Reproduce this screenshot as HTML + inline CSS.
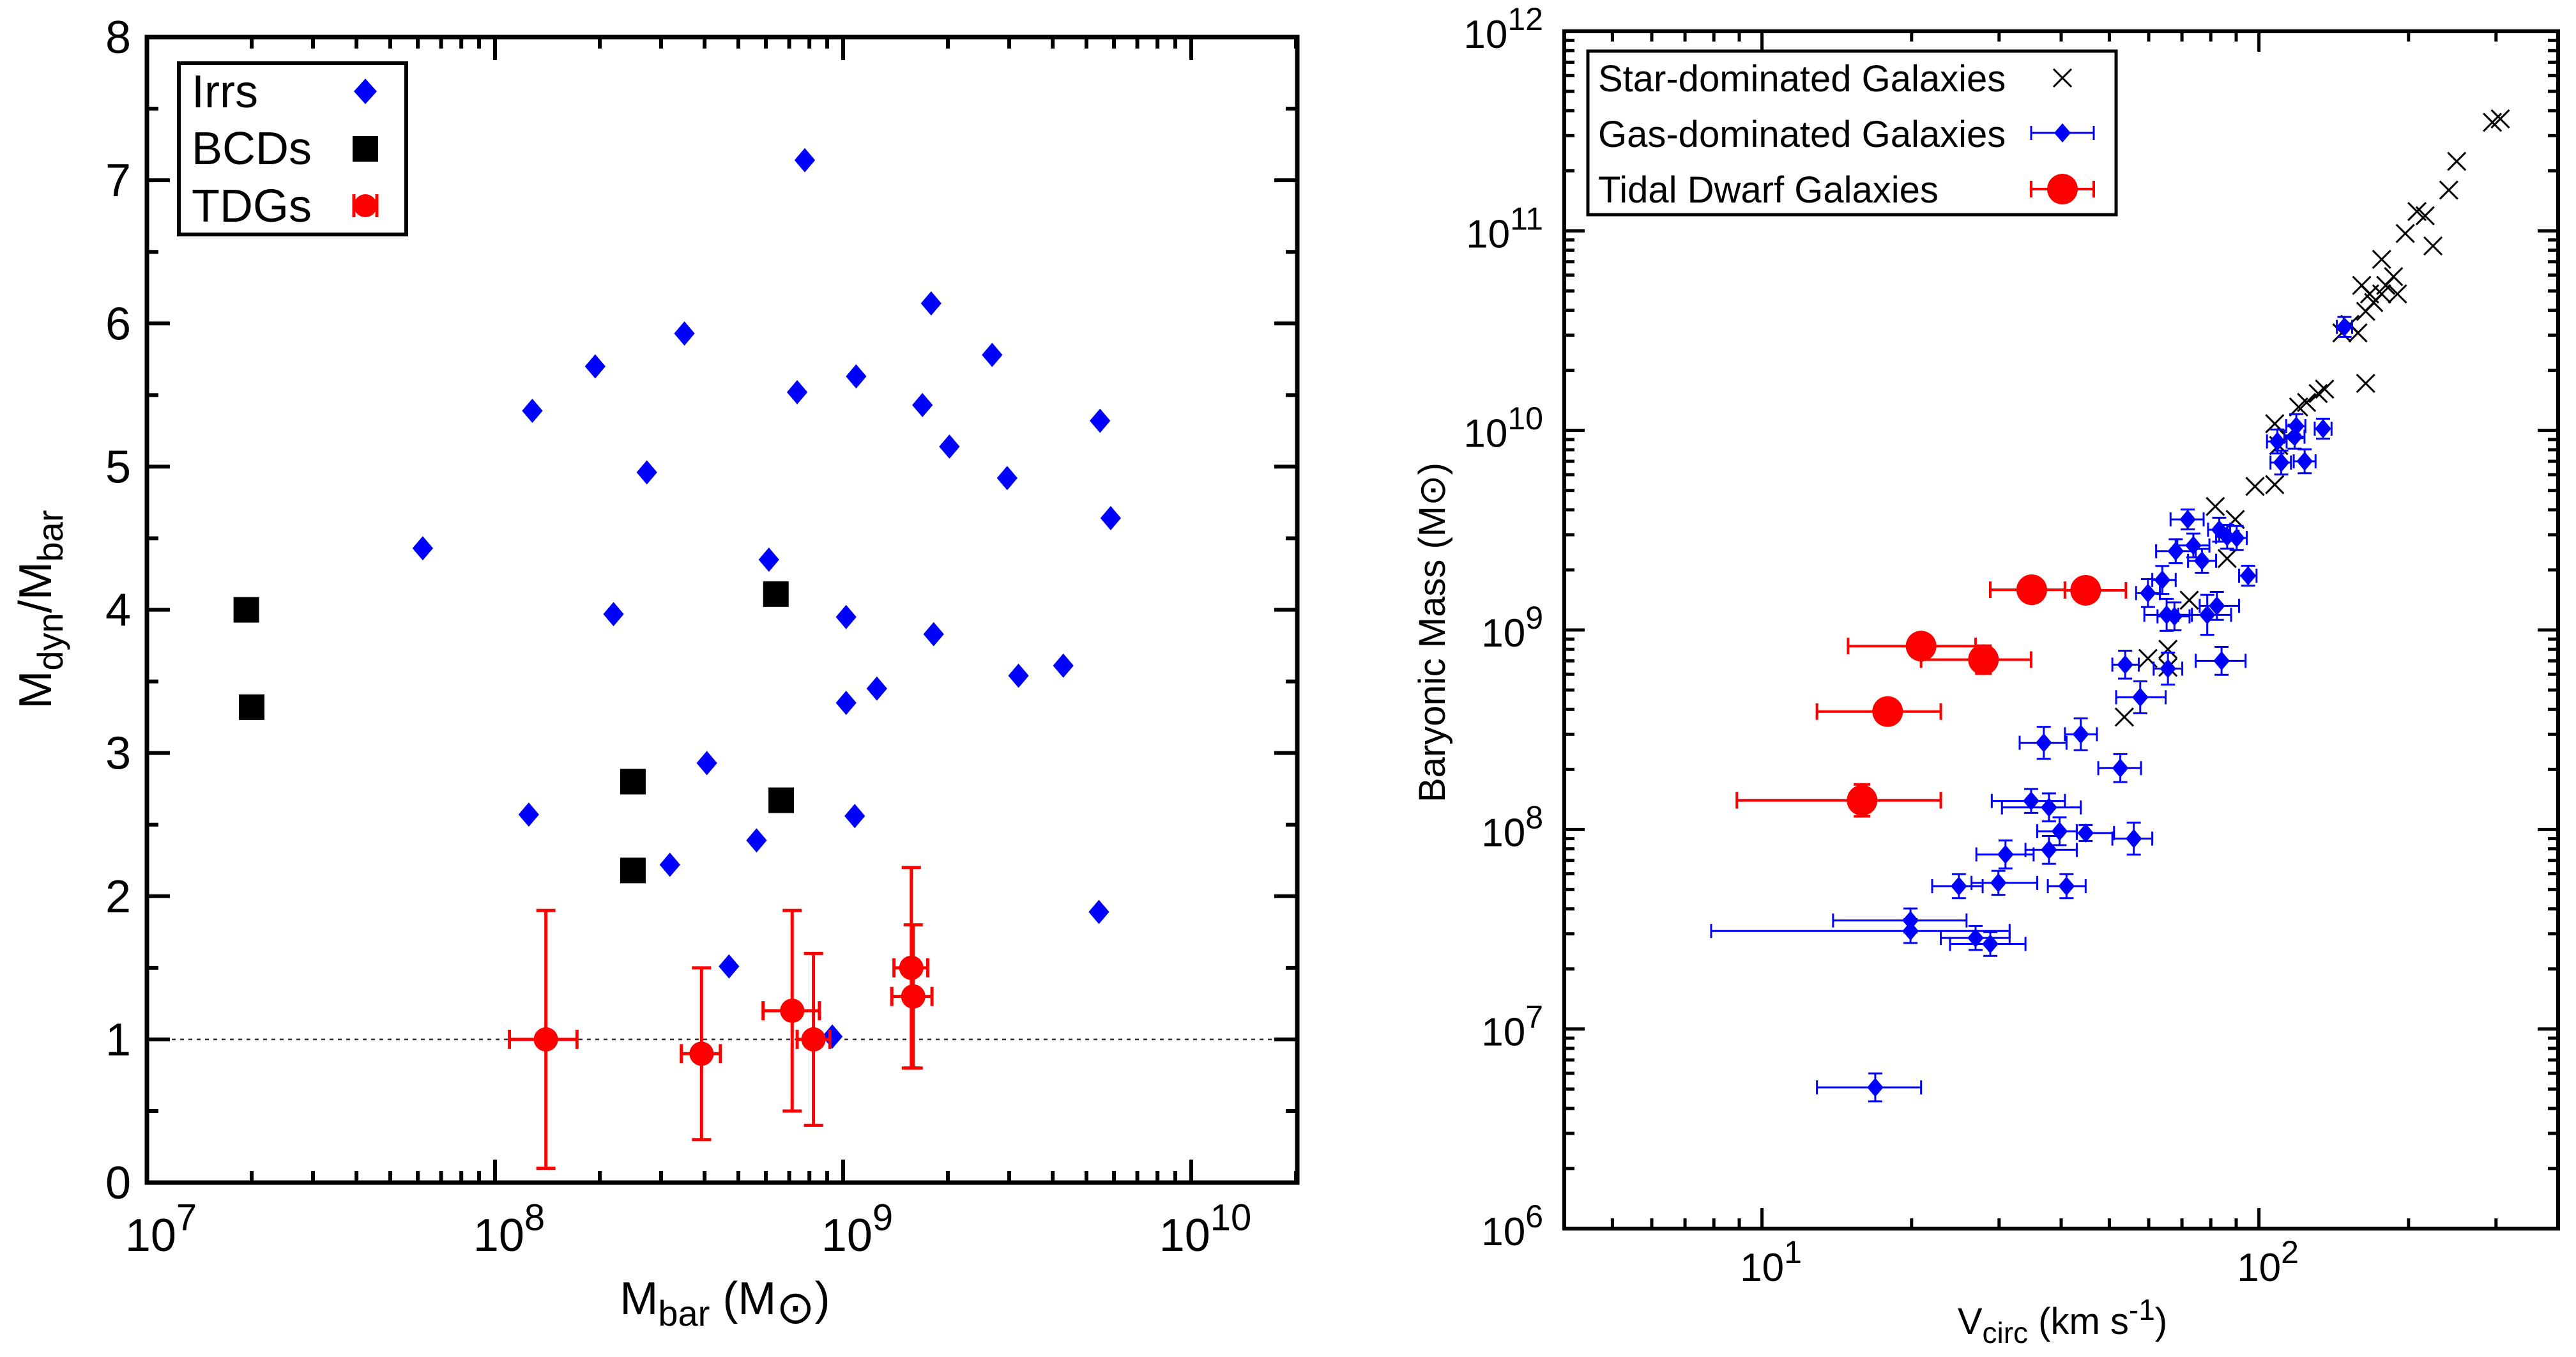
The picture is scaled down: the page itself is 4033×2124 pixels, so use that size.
<!DOCTYPE html>
<html><head><meta charset="utf-8"><style>
html,body{margin:0;padding:0;background:#fff;}
svg{display:block;font-family:"Liberation Sans","DejaVu Sans",sans-serif;}
</style></head><body>
<svg id="fig" width="4033" height="2124" viewBox="0 0 4033 2124" xmlns="http://www.w3.org/2000/svg">
<rect width="4033" height="2124" fill="#fff"/>
<g id="left"></g>
<g id="right"></g>
</svg>
<script>
// ---- Left panel data ----
const irrMbar = [6.2e7,1.28e8,1.25e8,1.94e8,2.19e8,2.73e8,3.18e8,3.50e8,4.06e8,4.70e8,5.64e8,6.12e8,7.38e8,7.76e8,9.31e8,1.02e9,1.02e9,1.08e9,1.09e9,1.25e9,1.69e9,1.79e9,1.82e9,2.02e9,2.68e9,2.96e9,3.19e9,4.29e9,5.47e9,5.43e9,5.87e9];
const irrRatio = [4.43,5.39,2.57,5.70,3.97,4.96,2.22,5.93,2.93,1.51,2.39,4.35,5.52,7.14,1.02,3.95,3.35,2.56,5.63,3.45,5.43,6.14,3.83,5.14,5.78,4.92,3.54,3.61,5.32,1.89,4.64];
const bcdMbar = [1.93e7,2.0e7,2.49e8,2.49e8,6.41e8,6.64e8];
const bcdRatio = [4.00,3.32,2.80,2.18,4.11,2.67];
const tdgMbar = [1.40e8,3.92e8,7.14e8,8.22e8,1.57e9,1.59e9];
const tdgMbarLo = [1.10e8,3.43e8,5.89e8,7.38e8,1.40e9,1.38e9];
const tdgMbarHi = [1.72e8,4.44e8,8.55e8,9.16e8,1.75e9,1.80e9];
const tdgRatio = [1.0,0.9,1.2,1.0,1.5,1.3];
const tdgRatioLo = [0.1,0.3,0.5,0.4,0.8,0.8];
const tdgRatioHi = [1.9,1.5,1.9,1.6,2.2,1.8];
const leftYTicks = [0,1,2,3,4,5,6,7,8];
const leftXDecades = [7,8,9,10];

// ---- Right panel data ----
const starV = [53.6,59.8,65.6,65.6,72.4,81.7,86.3,89.6,98.2,107.6,109.6,107.6,113.7,120.2,124.7,131.6,135.6,164,146.9,152.4,158.2,164,170.2,176.6,161,167,176.6,180,186.6,190,197,208,216,224,241,250,295,306];
const starM = [3.66e8,7.2e8,8.0e8,6.5e8,1.41e9,4.16e9,2.28e9,3.58e9,5.24e9,5.35e9,8.4e9,1.08e10,9.3e9,1.31e10,1.38e10,1.53e10,1.61e10,1.72e10,3.08e10,3.40e10,3.08e10,3.95e10,4.37e10,4.83e10,5.33e10,4.83e10,7.2e10,5.33e10,5.9e10,4.83e10,9.7e10,1.25e11,1.19e11,8.4e10,1.60e11,2.23e11,3.50e11,3.64e11];
const gasV = [16.9,19.9,19.9,24.9,26.9,28.8,29.9,30.9,34.8,37.8,37.8,39.7,41.0,44.8,36.9,43.8,52.6,56.0,53.8,57.7,59.8,63.9,65.6,65.2,67.6,68.0,71.9,73.8,76.8,78.7,82.3,84.1,83.2,86.3,90.2,95.1,108.9,110.9,118.9,118.0,123.6,134.6,148.6];
const gasVlo = [12.9,13.9,7.9,22.0,22.9,23.9,26.4,27.0,29.0,30.4,33.9,35.8,37.6,43.0,33.0,40.7,47.5,50.7,50.7,51.6,56.6,61.0,61.4,58.8,62.5,62.1,66.4,68.5,72.0,68.8,76.0,74.6,79.0,82.0,86.5,91.2,103.8,105.5,113.5,112.5,117.5,129.5,143.5];
const gasVhi = [20.9,25.8,31.5,27.8,31.5,33.9,35.8,35.2,40.7,43.8,43.0,43.0,44.8,51.1,41.0,47.2,57.9,61.0,57.3,64.9,63.2,68.0,70.1,73.3,72.5,74.6,77.4,79.5,82.0,87.9,91.2,94.0,87.5,91.0,94.5,98.9,113.7,116.0,124.0,123.5,130.0,140.0,154.0];
const gasM = [5.1e6,3.5e7,3.1e7,5.2e7,2.86e7,2.67e7,5.4e7,7.5e7,1.39e8,1.29e8,7.9e7,9.8e7,5.2e7,9.6e7,2.72e8,3.0e8,2.03e8,9.0e7,6.7e8,4.6e8,1.53e9,1.78e9,6.4e8,1.19e9,1.17e9,2.48e9,3.58e9,2.65e9,2.22e9,1.19e9,1.32e9,7.0e8,3.18e9,2.93e9,2.89e9,1.87e9,8.8e9,6.9e9,1.05e10,9.3e9,7.0e9,1.02e10,3.3e10];
const gasMerrDex = [0.07,0.06,0.06,0.06,0.06,0.06,0.06,0.07,0.06,0.07,0.07,0.07,0.06,0.04,0.08,0.08,0.07,0.08,0.07,0.08,0.07,0.07,0.08,0.08,0.07,0.06,0.05,0.06,0.06,0.10,0.07,0.07,0.06,0.06,0.06,0.05,0.06,0.06,0.06,0.06,0.06,0.05,0.05];
const tdgV = [15.9,17.9,20.9,27.9,34.9,44.8];
const tdgVlo = [8.9,12.9,14.9,20.9,28.8,40.7];
const tdgVhi = [22.9,22.9,26.9,34.8,40.7,54.0];
const tdgM = [1.40e8,3.9e8,8.3e8,7.1e8,1.59e9,1.58e9];
const tdgMerrDex = [0.08,0.04,0.04,0.07,0.04,0.04];
const rightYDecades = [6,7,8,9,10,11,12];
const rightXDecades = [1,2];

const NS = "http://www.w3.org/2000/svg";
function mk(parent, tag, attrs, name, text){
  const e = document.createElementNS(NS, tag);
  for (const k in attrs) e.setAttribute(k, attrs[k]);
  
  
  if (text !== undefined) e.textContent = text;
  parent.appendChild(e);
  return e;
}
function line(p,x1,y1,x2,y2,stroke,w,name,extra){
  const a = {x1:x1,y1:y1,x2:x2,y2:y2,stroke:stroke,'stroke-width':w};
  if (extra) for (const k in extra) a[k]=extra[k];
  return mk(p,'line',a,name);
}
function powLabel(p,x,y,base,exp,fs,sfs,anchorRight,name){
  const t = mk(p,'text',{x:x,y:y,'font-size':fs,'text-anchor':anchorRight?'end':'middle'},name);
  const b = document.createElementNS(NS,'tspan'); b.textContent=base; t.appendChild(b);
  const s = document.createElementNS(NS,'tspan'); s.setAttribute('dy',-fs*0.45); s.setAttribute('font-size',sfs); s.textContent=exp; t.appendChild(s);
  return t;
}

// ================= LEFT =================
(function(){
  const g = document.getElementById('left');
  const L=230, R=2031, T=58, B=1851;
  const lx0=7, lx1=7+(R-L)/545;
  const X = v => L + (Math.log10(v)-lx0)/(lx1-lx0)*(R-L);
  const Y = v => B - v/8*(B-T);
  // dotted line at 1
  line(g,L,Y(1),R,Y(1),'#333',2.5,'reference-line-ratio-1',{'stroke-dasharray':'6,7'});
  // ticks
  const tk = mk(g,'g',{},'ticks');
  for (let v=0; v<=8; v+=0.5){
    const len = (v%1===0)?36:18;
    line(tk,L,Y(v),L+len,Y(v),'#000',6,'y-tick');
    line(tk,R,Y(v),R-len,Y(v),'#000',6,'y-tick-right');
  }
  for (let d=7; d<=10; d++){
    for (let m=1; m<=9; m++){
      const v = m*Math.pow(10,d);
      const x = X(v);
      if (x<L+1 || x>R-1) continue;
      const len = m===1?36:18;
      line(tk,x,B,x,B-len,'#000',6,'x-tick');
      line(tk,x,T,x,T+len,'#000',6,'x-tick-top');
    }
  }
  mk(g,'rect',{x:L,y:T,width:R-L,height:B-T,fill:'none',stroke:'#000','stroke-width':7},'plot-frame');
  // tick labels
  leftYTicks.forEach(v=>{ mk(g,'text',{x:205,y:Y(v)+25,'font-size':72,'text-anchor':'end'},'y-tick-label',String(v)); });
  leftXDecades.forEach(d=>{ powLabel(g,X(Math.pow(10,d))+22,1958,'10',String(d),72,58,false,'x-tick-label'); });
  // axis labels
  const yl = mk(g,'text',{x:0,y:0,'font-size':72,'text-anchor':'middle',transform:'translate(80,954) rotate(-90)'},'y-axis-title');
  yl.innerHTML = 'M<tspan font-size="56" dy="18">dyn</tspan><tspan dy="-18">/M</tspan><tspan font-size="56" dy="18">bar</tspan>';
  const xl = mk(g,'text',{x:1135,y:2057,'font-size':72,'text-anchor':'middle'},'x-axis-title');
  xl.innerHTML = 'M<tspan font-size="56" dy="18">bar</tspan><tspan dy="-18"> (M</tspan><tspan font-family="DejaVu Sans" dy="14">⊙</tspan><tspan dy="-14">)</tspan>';
  // markers
  const ir = mk(g,'g',{fill:'#0000ff'},'irrs-series');
  irrMbar.forEach((m,i)=>{
    const x=X(m), y=Y(irrRatio[i]), s=19;
    const p = document.createElementNS(NS,'path');
    p.setAttribute('d',`M${x},${y-s}L${x+s*0.85},${y}L${x},${y+s}L${x-s*0.85},${y}Z`);
    
    
    ir.appendChild(p);
  });
  const bc = mk(g,'g',{fill:'#000'},'bcds-series');
  bcdMbar.forEach((m,i)=>{
    const x=X(m), y=Y(bcdRatio[i]);
    const r = document.createElementNS(NS,'rect');
    r.setAttribute('x',x-20); r.setAttribute('y',y-20); r.setAttribute('width',40); r.setAttribute('height',40);
    
    
    bc.appendChild(r);
  });
  const td = mk(g,'g',{stroke:'#ff0000',fill:'#ff0000','stroke-width':5},'tdgs-series');
  tdgMbar.forEach((m,i)=>{
    const x=X(m), y=Y(tdgRatio[i]);
    const xl_=X(tdgMbarLo[i]), xh=X(tdgMbarHi[i]), yl_=Y(tdgRatioLo[i]), yh=Y(tdgRatioHi[i]);
    line(td,xl_,y,xh,y,'#ff0000',5,'tdg-xerr');
    line(td,xl_,y-15,xl_,y+15,'#ff0000',5,'tdg-xerr-cap');
    line(td,xh,y-15,xh,y+15,'#ff0000',5,'tdg-xerr-cap');
    line(td,x,yl_,x,yh,'#ff0000',5,'tdg-yerr');
    line(td,x-15,yl_,x+15,yl_,'#ff0000',5,'tdg-yerr-cap');
    line(td,x-15,yh,x+15,yh,'#ff0000',5,'tdg-yerr-cap');
    mk(td,'circle',{cx:x,cy:y,r:19,stroke:'none'},'tdg-point');
  });
  // legend
  const lg = mk(g,'g',{},'legend');
  mk(lg,'rect',{x:280,y:99,width:356,height:268,fill:'#fff',stroke:'#000','stroke-width':6},'legend-box');
  mk(lg,'text',{x:300,y:168,'font-size':72},'legend-label-irrs','Irrs');
  mk(lg,'text',{x:300,y:257,'font-size':72},'legend-label-bcds','BCDs');
  mk(lg,'text',{x:300,y:347,'font-size':72},'legend-label-tdgs','TDGs');
  mk(lg,'path',{d:'M572,123L590,143L572,163L554,143Z',fill:'#0000ff'},'legend-marker-irrs');
  mk(lg,'rect',{x:552,y:213,width:40,height:40,fill:'#000'},'legend-marker-bcds');
  mk(lg,'circle',{cx:572,cy:322,r:18,fill:'#ff0000'},'legend-marker-tdgs');
  line(lg,552,322,592,322,'#ff0000',5,'legend-errbar-tdgs');
  line(lg,554,304,554,340,'#ff0000',5,'legend-cap');
  line(lg,590,304,590,340,'#ff0000',5,'legend-cap');
})();

// ================= RIGHT =================
(function(){
  const g = document.getElementById('right');
  const L=2449, R=4005, T=49, B=1923;
  const lx0=Math.log10(4), lx1=Math.log10(400);
  const X = v => L + (Math.log10(v)-lx0)/(lx1-lx0)*(R-L);
  const Y = v => B - (Math.log10(v)-6)/6*(B-T);
  const tk = mk(g,'g',{},'ticks');
  for (let d=6; d<12; d++){
    for (let m=1; m<=9; m++){
      const y = Y(m*Math.pow(10,d));
      const len = m===1?32:16;
      line(tk,L,y,L+len,y,'#000',5,'y-tick');
      line(tk,R,y,R-len,y,'#000',5,'y-tick-right');
    }
  }
  for (let d=0; d<=2; d++){
    for (let m=1; m<=9; m++){
      const v=m*Math.pow(10,d); const x=X(v);
      if (x<L+1 || x>R-1) continue;
      const len = m===1?32:16;
      line(tk,x,B,x,B-len,'#000',5,'x-tick');
      line(tk,x,T,x,T+len,'#000',5,'x-tick-top');
    }
  }
  mk(g,'rect',{x:L,y:T,width:R-L,height:B-T,fill:'none',stroke:'#000','stroke-width':6},'plot-frame');
  rightYDecades.forEach(d=>{ powLabel(g,2416,Y(Math.pow(10,d))+26,'10',String(d),62,50,true,'y-tick-label'); });
  rightXDecades.forEach(d=>{ powLabel(g,X(Math.pow(10,d))+14,2005,'10',String(d),62,50,false,'x-tick-label'); });
  const yl = mk(g,'text',{x:0,y:0,'font-size':58,'text-anchor':'middle',transform:'translate(2262,990) rotate(-90)'},'y-axis-title');
  yl.innerHTML = 'Baryonic Mass (M<tspan font-family="DejaVu Sans">⊙</tspan>)';
  const xl = mk(g,'text',{x:3229,y:2088,'font-size':58,'text-anchor':'middle'},'x-axis-title');
  xl.innerHTML = 'V<tspan font-size="46" dy="14">circ</tspan><tspan dy="-14"> (km s</tspan><tspan font-size="46" dy="-22">-1</tspan><tspan dy="22">)</tspan>';
  // stars
  const st = mk(g,'g',{stroke:'#000','stroke-width':3},'star-dominated-series');
  starV.forEach((v,i)=>{
    const x=X(v), y=Y(starM[i]), s=14;
    const p = document.createElementNS(NS,'path');
    p.setAttribute('d',`M${x-s},${y-s}L${x+s},${y+s}M${x-s},${y+s}L${x+s},${y-s}`);
    
    
    st.appendChild(p);
  });
  // gas
  const gs = mk(g,'g',{fill:'#0000ff'},'gas-dominated-series');
  gasV.forEach((v,i)=>{
    const x=X(v), y=Y(gasM[i]);
    const xl_=X(gasVlo[i]), xh=X(gasVhi[i]);
    const yl_=Y(gasM[i]*Math.pow(10,-gasMerrDex[i])), yh=Y(gasM[i]*Math.pow(10,gasMerrDex[i]));
    line(gs,xl_,y,xh,y,'#0000ff',3,'gas-xerr');
    line(gs,xl_,y-11,xl_,y+11,'#0000ff',3,'gas-xerr-cap');
    line(gs,xh,y-11,xh,y+11,'#0000ff',3,'gas-xerr-cap');
    line(gs,x,yl_,x,yh,'#0000ff',3,'gas-yerr');
    line(gs,x-11,yl_,x+11,yl_,'#0000ff',3,'gas-yerr-cap');
    line(gs,x-11,yh,x+11,yh,'#0000ff',3,'gas-yerr-cap');
    const s=15;
    const p = document.createElementNS(NS,'path');
    p.setAttribute('d',`M${x},${y-s}L${x+s*0.85},${y}L${x},${y+s}L${x-s*0.85},${y}Z`);
    
    
    gs.appendChild(p);
  });
  // tdg
  const td = mk(g,'g',{fill:'#ff0000'},'tidal-dwarf-series');
  tdgV.forEach((v,i)=>{
    const x=X(v), y=Y(tdgM[i]);
    const xl_=X(tdgVlo[i]), xh=X(tdgVhi[i]);
    const yl_=Y(tdgM[i]*Math.pow(10,-tdgMerrDex[i])), yh=Y(tdgM[i]*Math.pow(10,tdgMerrDex[i]));
    line(td,xl_,y,xh,y,'#ff0000',4,'tdg-xerr');
    line(td,xl_,y-13,xl_,y+13,'#ff0000',4,'tdg-xerr-cap');
    line(td,xh,y-13,xh,y+13,'#ff0000',4,'tdg-xerr-cap');
    line(td,x,yl_,x,yh,'#ff0000',4,'tdg-yerr');
    line(td,x-13,yl_,x+13,yl_,'#ff0000',4,'tdg-yerr-cap');
    line(td,x-13,yh,x+13,yh,'#ff0000',4,'tdg-yerr-cap');
    mk(td,'circle',{cx:x,cy:y,r:24},'tdg-point');
  });
  // legend
  const lg = mk(g,'g',{},'legend');
  mk(lg,'rect',{x:2486,y:80,width:827,height:256,fill:'#fff',stroke:'#000','stroke-width':5},'legend-box');
  mk(lg,'text',{x:2502,y:143,'font-size':58},'legend-label-star','Star-dominated Galaxies');
  mk(lg,'text',{x:2502,y:230,'font-size':58},'legend-label-gas','Gas-dominated Galaxies');
  mk(lg,'text',{x:2502,y:317,'font-size':58},'legend-label-tdg','Tidal Dwarf Galaxies');
  mk(lg,'path',{d:'M3215,108L3243,136M3215,136L3243,108',stroke:'#000','stroke-width':3},'legend-marker-star');
  line(lg,3180,208,3278,208,'#0000ff',3,'legend-errbar-gas');
  line(lg,3180,197,3180,219,'#0000ff',3,'legend-cap');
  line(lg,3278,197,3278,219,'#0000ff',3,'legend-cap');
  mk(lg,'path',{d:'M3229,193L3242,208L3229,223L3216,208Z',fill:'#0000ff'},'legend-marker-gas');
  line(lg,3180,296,3278,296,'#ff0000',4,'legend-errbar-tdg');
  line(lg,3180,283,3180,309,'#ff0000',4,'legend-cap');
  line(lg,3278,283,3278,309,'#ff0000',4,'legend-cap');
  mk(lg,'circle',{cx:3229,cy:296,r:24,fill:'#ff0000'},'legend-marker-tdg');
})();
</script>
</body></html>
